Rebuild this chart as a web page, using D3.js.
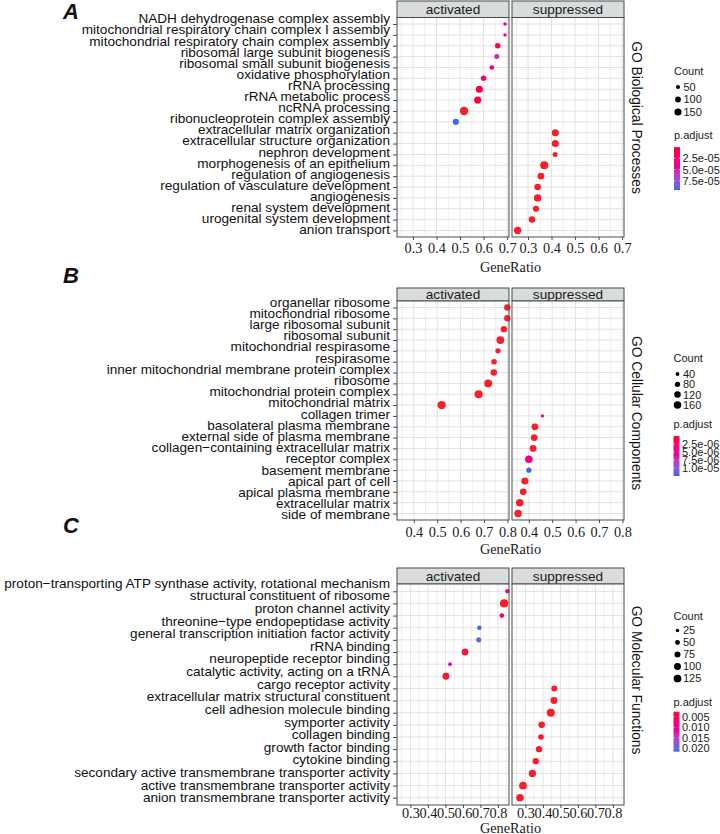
<!DOCTYPE html>
<html><head><meta charset="utf-8">
<script src="https://cdn.jsdelivr.net/npm/d3@7"></script>
<style>body{margin:0;background:#fff}svg{display:block}</style>
</head><body><svg id="chart" width="720" height="834"></svg>
<script>
// ---------------- DATA ----------------
const groupNames = ["activated", "suppressed"];

// Panel A : GO Biological Processes
const termsA = ["NADH dehydrogenase complex assembly","mitochondrial respiratory chain complex I assembly","mitochondrial respiratory chain complex assembly","ribosomal large subunit biogenesis","ribosomal small subunit biogenesis","oxidative phosphorylation","rRNA processing","rRNA metabolic process","ncRNA processing","ribonucleoprotein complex assembly","extracellular matrix organization","extracellular structure organization","nephron development","morphogenesis of an epithelium","regulation of angiogenesis","regulation of vasculature development","angiogenesis","renal system development","urogenital system development","anion transport"];
const groupA = ["activated","activated","activated","activated","activated","activated","activated","activated","activated","activated","suppressed","suppressed","suppressed","suppressed","suppressed","suppressed","suppressed","suppressed","suppressed","suppressed"];
const ratioA = [0.691,0.691,0.660,0.656,0.635,0.600,0.582,0.575,0.517,0.482,0.416,0.416,0.415,0.369,0.355,0.341,0.341,0.334,0.317,0.256];
const countA = [35,35,90,75,65,90,150,155,210,115,150,150,75,195,130,130,165,115,125,160];
const padjA = [4.2e-5,4.0e-5,1.2e-5,5.6e-5,2.9e-5,1.8e-5,7e-6,7e-6,2e-7,9.5e-5,2e-12,2e-12,3e-9,5e-13,1e-9,1e-10,1e-11,1e-9,1e-10,1e-10];
const sizeBreaksA = [50,100,150];
const colorBreaksA = [2.5e-5,5.0e-5,7.5e-5];
const colorLabelsA = ["2.5e-05","5.0e-05","7.5e-05"];
const tickLabelsA = ["0.3","0.4","0.5","0.6","0.7"];

// Panel B : GO Cellular Components
const termsB = ["organellar ribosome","mitochondrial ribosome","large ribosomal subunit","ribosomal subunit","mitochondrial respirasome","respirasome","inner mitochondrial membrane protein complex","ribosome","mitochondrial protein complex","mitochondrial matrix","collagen trimer","basolateral plasma membrane","external side of plasma membrane","collagen\u2212containing extracellular matrix","receptor complex","basement membrane","apical part of cell","apical plasma membrane","extracellular matrix","side of membrane"];
const groupB = ["activated","activated","activated","activated","activated","activated","activated","activated","activated","activated","suppressed","suppressed","suppressed","suppressed","suppressed","suppressed","suppressed","suppressed","suppressed","suppressed"];
const ratioB = [0.800,0.800,0.785,0.770,0.760,0.743,0.742,0.718,0.677,0.519,0.458,0.426,0.423,0.418,0.400,0.400,0.383,0.376,0.361,0.354];
const countB = [120,120,115,170,80,90,120,170,185,200,30,130,130,130,165,75,145,125,160,160];
const padjB = [1e-9,1e-9,1e-9,1e-10,1e-8,1e-8,1e-9,1e-10,1e-11,1e-12,5.6e-6,1e-8,1e-8,1e-10,4.4e-6,1.25e-5,1e-8,1e-8,1e-12,1e-9];
const sizeBreaksB = [40,80,120,160];
const colorBreaksB = [2.5e-6,5.0e-6,7.5e-6,1.0e-5];
const colorLabelsB = ["2.5e-06","5.0e-06","7.5e-06","1.0e-05"];
const tickLabelsB = ["0.4","0.5","0.6","0.7","0.8"];

// Panel C : GO Molecular Functions
const termsC = ["proton\u2212transporting ATP synthase activity, rotational mechanism","structural constituent of ribosome","proton channel activity","threonine\u2212type endopeptidase activity","general transcription initiation factor activity","rRNA binding","neuropeptide receptor binding","catalytic activity, acting on a tRNA","cargo receptor activity","extracellular matrix structural constituent","cell adhesion molecule binding","symporter activity","collagen binding","growth factor binding","cytokine binding","secondary active transmembrane transporter activity","active transmembrane transporter activity","anion transmembrane transporter activity"];
const groupC = ["activated","activated","activated","activated","activated","activated","activated","activated","suppressed","suppressed","suppressed","suppressed","suppressed","suppressed","suppressed","suppressed","suppressed","suppressed"];
const ratioC = [0.854,0.835,0.822,0.694,0.690,0.612,0.526,0.503,0.465,0.463,0.445,0.393,0.389,0.378,0.359,0.340,0.286,0.269];
const countC = [42,140,45,40,55,95,30,100,75,100,135,90,65,85,85,110,125,120];
const padjC = [0.0089,0.0028,0.0045,0.0216,0.0197,0.0030,0.0120,0.0029,0.0027,0.0026,0.0026,0.0028,0.0029,0.0027,0.0028,0.0027,0.0026,0.0026];
const sizeBreaksC = [25,50,75,100,125];
const colorBreaksC = [0.005,0.010,0.015,0.020];
const colorLabelsC = ["0.005","0.010","0.015","0.020"];
const tickLabelsC = ["0.3","0.4","0.5","0.6","0.7","0.8"];

// ---------------- STYLE / LAYOUT ----------------
const RED = "#fa1e2a", BLUE = "#3b68e6";
const SANS = "'Liberation Sans', Arial, sans-serif";
const SERIF = "'Liberation Serif', 'Times New Roman', serif";
const facetX = {activated: [397, 509], suppressed: [512, 624]};

const svg = d3.select("#chart");
svg.append("rect").attr("width", 720).attr("height", 834).attr("fill", "#fff");
const defs = svg.append("defs");

function drawPanel(cfg, d) {
  const g = svg.append("g");
  const rows = d.terms.map((t, i) => ({term: t, group: d.group[i], ratio: d.ratio[i], count: d.count[i], padj: d.padj[i]}));
  const y = d3.scalePoint().domain(d.terms).range([cfg.panelTop, cfg.panelBottom]).padding(0.6);
  const yLab = d3.scalePoint().domain(d.terms).range(cfg.labelRange);
  const r = d3.scaleSqrt().domain([0, d3.max(d.count)]).range([0, cfg.rmax]);
  const pExt = d3.extent(d.padj);
  const col = d3.scaleLinear().domain(pExt).range([RED, BLUE]).interpolate(d3.interpolateHcl);
  const tickVals = d.ticks.map(Number);

  groupNames.forEach(name => {
    const [x0, x1] = facetX[name];
    const x = d3.scaleLinear().domain(cfg.xDomain).range([x0, x1]);
    // strip
    g.append("rect").attr("x", x0).attr("y", cfg.stripTop).attr("width", x1 - x0).attr("height", cfg.panelTop - cfg.stripTop)
      .attr("fill", "#d8dcdc").attr("stroke", "#4a4a4a").attr("stroke-width", 1);
    g.append("text").attr("x", (x0 + x1) / 2).attr("y", (cfg.stripTop + cfg.panelTop) / 2).attr("dy", "0.36em")
      .attr("text-anchor", "middle").attr("font-family", SANS).attr("font-size", 13.6).attr("fill", "#1a1a1a").text(name);
    // panel
    g.append("rect").attr("x", x0).attr("y", cfg.panelTop).attr("width", x1 - x0).attr("height", cfg.panelBottom - cfg.panelTop).attr("fill", "#fff");
    const minor = x.ticks(10).filter(v => !tickVals.some(t => Math.abs(t - v) < 1e-9));
    g.selectAll(null).data(minor).join("line")
      .attr("x1", v => x(v)).attr("x2", v => x(v)).attr("y1", cfg.panelTop).attr("y2", cfg.panelBottom)
      .attr("stroke", "#e6e6e6").attr("stroke-width", 0.7);
    g.selectAll(null).data(tickVals).join("line")
      .attr("x1", v => x(v)).attr("x2", v => x(v)).attr("y1", cfg.panelTop).attr("y2", cfg.panelBottom)
      .attr("stroke", "#e2e2e2").attr("stroke-width", 1);
    g.selectAll(null).data(d.terms).join("line")
      .attr("x1", x0).attr("x2", x1).attr("y1", t => y(t)).attr("y2", t => y(t))
      .attr("stroke", "#e2e2e2").attr("stroke-width", 1);
    // points
    g.selectAll(null).data(rows.filter(p => p.group === name)).join("circle")
      .attr("cx", p => x(p.ratio)).attr("cy", p => y(p.term)).attr("r", p => r(p.count)).attr("fill", p => col(p.padj));
    // border
    g.append("rect").attr("x", x0).attr("y", cfg.panelTop).attr("width", x1 - x0).attr("height", cfg.panelBottom - cfg.panelTop)
      .attr("fill", "none").attr("stroke", "#4a4a4a").attr("stroke-width", 1);
    // x axis
    const ax = g.append("g").attr("transform", `translate(0,${cfg.panelBottom})`)
      .call(d3.axisBottom(x).tickValues(tickVals).tickFormat((v, i) => d.ticks[i]).tickSize(3));
    ax.select(".domain").remove();
    ax.selectAll(".tick line").attr("stroke", "#4a4a4a");
    ax.selectAll(".tick text").attr("dy", null).attr("y", cfg.tickBase - cfg.panelBottom)
      .attr("font-family", SERIF).attr("font-size", 14.3).attr("fill", "#1a1a1a");
  });

  // y axis ticks
  const ay = g.append("g").attr("transform", `translate(${facetX.activated[0]},0)`)
    .call(d3.axisLeft(y).tickSize(4).tickFormat(""));
  ay.select(".domain").remove();
  ay.selectAll(".tick line").attr("stroke", "#4a4a4a");
  // y labels
  g.selectAll(null).data(d.terms).join("text")
    .attr("x", 390).attr("y", t => yLab(t)).attr("text-anchor", "end")
    .attr("font-family", SANS).attr("font-size", 13.6).attr("fill", "#111").text(t => t);

  // axis title
  g.append("text").attr("x", (facetX.activated[0] + facetX.suppressed[1]) / 2).attr("y", cfg.titleBase)
    .attr("text-anchor", "middle").attr("font-family", SERIF).attr("font-size", 14.3).attr("fill", "#1a1a1a").text("GeneRatio");

  // facet label (rotated)
  g.append("text").attr("transform", `translate(632,${cfg.facetY}) rotate(90)`)
    .attr("text-anchor", "middle").attr("font-family", SANS).attr("font-size", 13.8).attr("fill", "#111").text(cfg.facetLabel);

  // panel letter
  g.append("text").attr("x", 63).attr("y", cfg.letterY).attr("font-family", SANS).attr("font-size", 22)
    .attr("font-weight", "bold").attr("font-style", "italic").attr("fill", "#111").text(cfg.letter);

  // legend: Count
  const lg = g.append("g");
  lg.append("text").attr("x", cfg.legX).attr("y", cfg.countTitleY).attr("font-family", SANS).attr("font-size", 11).attr("fill", "#1a1a1a").text("Count");
  d.sizeBreaks.forEach((b, i) => {
    const cy = cfg.countY0 + i * cfg.countStep;
    lg.append("circle").attr("cx", cfg.legX + 4).attr("cy", cy).attr("r", r(b)).attr("fill", "#000");
    lg.append("text").attr("x", cfg.legX + 9.5).attr("y", cy).attr("dy", "0.36em").attr("font-family", SANS).attr("font-size", 11).attr("fill", "#1a1a1a").text(b);
  });
  // legend: p.adjust
  lg.append("text").attr("x", cfg.legX).attr("y", cfg.pTitleY).attr("font-family", SANS).attr("font-size", 11).attr("fill", "#1a1a1a").text("p.adjust");
  const gid = "grad" + cfg.letter;
  const grad = defs.append("linearGradient").attr("id", gid).attr("x1", 0).attr("x2", 0).attr("y1", 0).attr("y2", 1);
  d3.range(0, 1.0001, 0.05).forEach(t => grad.append("stop").attr("offset", t).attr("stop-color", col(pExt[0] + t * (pExt[1] - pExt[0]))));
  const [b0, b1] = cfg.bar;
  lg.append("rect").attr("x", cfg.legX).attr("y", b0).attr("width", 6).attr("height", b1 - b0).attr("fill", `url(#${gid})`);
  const pb = d3.scaleLinear().domain(pExt).range([b0, b1]);
  d.colorBreaks.forEach((v, i) => {
    lg.append("line").attr("x1", cfg.legX).attr("x2", cfg.legX + 1.2).attr("y1", pb(v)).attr("y2", pb(v)).attr("stroke", "#fff").attr("stroke-width", 0.6);
    lg.append("line").attr("x1", cfg.legX + 4.8).attr("x2", cfg.legX + 6).attr("y1", pb(v)).attr("y2", pb(v)).attr("stroke", "#fff").attr("stroke-width", 0.6);
    lg.append("text").attr("x", cfg.legX + 8.5).attr("y", pb(v)).attr("dy", "0.36em").attr("font-family", SANS).attr("font-size", 11).attr("fill", "#1a1a1a").text(d.colorLabels[i]);
  });
}

drawPanel({letter: "A", letterY: 19, stripTop: 1, panelTop: 17.5, panelBottom: 237, labelRange: [23.3, 234.3],
  xDomain: [0.232, 0.708], rmax: 4.2, tickBase: 253, titleBase: 271.5, facetY: 117.5, facetLabel: "GO Biological Processes",
  legX: 674, countTitleY: 75, countY0: 87, countStep: 12.5, pTitleY: 139, bar: [147, 190]},
  {terms: termsA, group: groupA, ratio: ratioA, count: countA, padj: padjA, sizeBreaks: sizeBreaksA, colorBreaks: colorBreaksA, colorLabels: colorLabelsA, ticks: tickLabelsA});

drawPanel({letter: "B", letterY: 283, stripTop: 288, panelTop: 301, panelBottom: 520, labelRange: [306.7, 519.3],
  xDomain: [0.328, 0.807], rmax: 4.2, tickBase: 537, titleBase: 554, facetY: 413, facetLabel: "GO Cellular Components",
  legX: 673.5, countTitleY: 361.5, countY0: 374, countStep: 10.3, pTitleY: 428, bar: [436, 476]},
  {terms: termsB, group: groupB, ratio: ratioB, count: countB, padj: padjB, sizeBreaks: sizeBreaksB, colorBreaks: colorBreaksB, colorLabels: colorLabelsB, ticks: tickLabelsB});

drawPanel({letter: "C", letterY: 533, stripTop: 568, panelTop: 584, panelBottom: 805, labelRange: [587.7, 802.3],
  xDomain: [0.2234, 0.863], rmax: 4.1, tickBase: 818, titleBase: 833, facetY: 680, facetLabel: "GO Molecular Functions",
  legX: 673.5, countTitleY: 620, countY0: 630.5, countStep: 12, pTitleY: 706, bar: [711.7, 751.7]},
  {terms: termsC, group: groupC, ratio: ratioC, count: countC, padj: padjC, sizeBreaks: sizeBreaksC, colorBreaks: colorBreaksC, colorLabels: colorLabelsC, ticks: tickLabelsC});
</script>
</body></html>
